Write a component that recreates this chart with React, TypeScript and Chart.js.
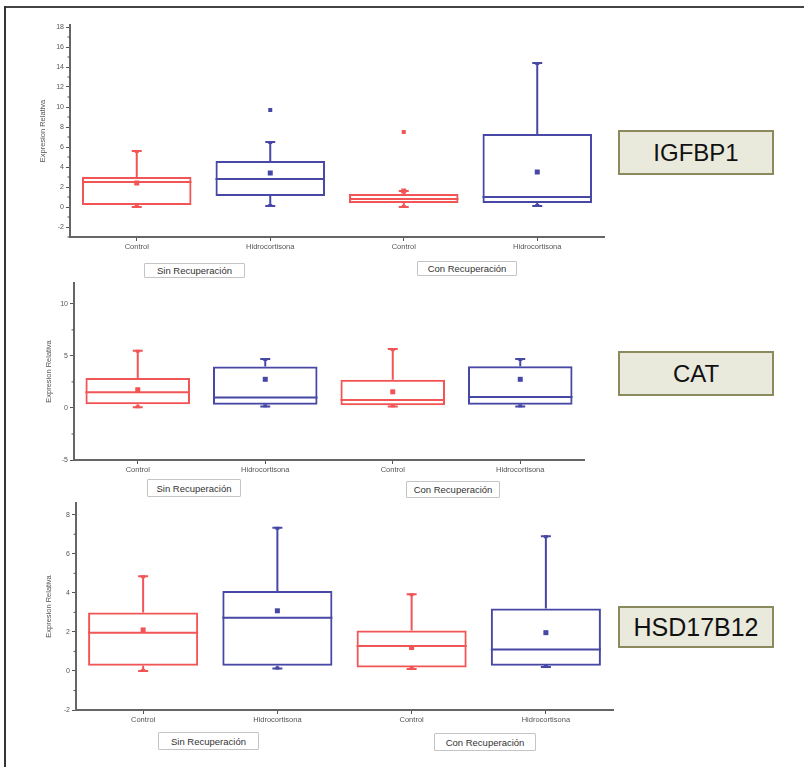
import React, { useEffect, useRef } from "react";
import { Chart, registerables } from "chart.js";
Chart.register(...registerables);

// ---------- data ----------
const categories = ["Control", "Hidrocortisona", "Control", "Hidrocortisona"];
const groupLabels = ["Sin Recuperación", "Con Recuperación"];
const yTitle = "Expresion Relativa";

// IGFBP1
const igfMin = [0, 0.1, 0, 0.1];
const igfQ1 = [0.2, 1.1, 0.4, 0.4];
const igfMedian = [2.5, 2.8, 0.8, 1.0];
const igfQ3 = [3.0, 4.6, 1.3, 7.3];
const igfMax = [5.6, 6.5, 1.6, 14.4];
const igfMean = [2.4, 3.4, 1.6, 3.5];
const igfOutliers = [[], [9.7], [7.5], []];
const igfTicks = [-2, 0, 2, 4, 6, 8, 10, 12, 14, 16, 18];
const igfMinor = [-3, -1, 1, 3, 5, 7, 9, 11, 13, 15, 17];

// CAT
const catMin = [0.07, 0.15, 0.15, 0.15];
const catQ1 = [0.35, 0.3, 0.25, 0.3];
const catMedian = [1.5, 1.0, 0.77, 1.05];
const catQ3 = [2.87, 3.98, 2.7, 4.0];
const catMax = [5.5, 4.7, 5.65, 4.7];
const catMean = [1.75, 2.75, 1.55, 2.75];
const catOutliers = [[], [], [], []];
const catTicks = [-5, 0, 5, 10];
const catMinor = [-2.5, 2.5, 7.5];

// HSD17B12
const hsdMin = [0, 0.12, 0.1, 0.2];
const hsdQ1 = [0.27, 0.27, 0.17, 0.27];
const hsdMedian = [1.95, 2.73, 1.28, 1.1];
const hsdQ3 = [2.99, 4.1, 2.07, 3.2];
const hsdMax = [4.85, 7.33, 3.93, 6.9];
const hsdMean = [2.1, 3.08, 1.2, 1.96];
const hsdOutliers = [[], [], [], []];
const hsdTicks = [-2, 0, 2, 4, 6, 8];
const hsdMinor = [-1, 1, 3, 5, 7];

const RED = "#f25555";
const BLUE = "#4747a6";
const boxColors = [RED, BLUE, RED, BLUE];

type PanelCfg = {
  gene: string;
  min: number[]; q1: number[]; median: number[]; q3: number[]; max: number[]; mean: number[];
  outliers: number[][];
  ticks: number[]; minor: number[];
  yMin: number; yMax: number;
  top: number; height: number;
  area: { left: number; right: number; top: number; bottom: number };
  yW: number;
  geneBox: { x: number; y: number; w: number; h: number; fs: number };
  groups: { x: number; y: number; w: number; h: number }[];
};

const W = 804;
const XH = 14;

const panels: PanelCfg[] = [
  {
    gene: "IGFBP1", min: igfMin, q1: igfQ1, median: igfMedian, q3: igfQ3, max: igfMax, mean: igfMean,
    outliers: igfOutliers, ticks: igfTicks, minor: igfMinor, yMin: -3, yMax: 18.2,
    top: 0, height: 258, area: { left: 70, right: 604, top: 25, bottom: 237 }, yW: 32,
    geneBox: { x: 618, y: 130, w: 156, h: 45, fs: 24 },
    groups: [{ x: 144, y: 263, w: 101, h: 15 }, { x: 417, y: 261, w: 100, h: 15 }],
  },
  {
    gene: "CAT", min: catMin, q1: catQ1, median: catMedian, q3: catQ3, max: catMax, mean: catMean,
    outliers: catOutliers, ticks: catTicks, minor: catMinor, yMin: -5, yMax: 12,
    top: 270, height: 232, area: { left: 74, right: 584, top: 13, bottom: 190 }, yW: 30,
    geneBox: { x: 618, y: 351, w: 156, h: 45, fs: 24 },
    groups: [{ x: 147, y: 479, w: 94, h: 18 }, { x: 406, y: 481, w: 94, h: 17 }],
  },
  {
    gene: "HSD17B12", min: hsdMin, q1: hsdQ1, median: hsdMedian, q3: hsdQ3, max: hsdMax, mean: hsdMean,
    outliers: hsdOutliers, ticks: hsdTicks, minor: hsdMinor, yMin: -2, yMax: 8.6,
    top: 495, height: 272, area: { left: 76, right: 613, top: 8, bottom: 215 }, yW: 32,
    geneBox: { x: 618, y: 606, w: 156, h: 42, fs: 25 },
    groups: [{ x: 158, y: 732, w: 101, h: 18 }, { x: 434, y: 733, w: 102, h: 18 }],
  },
];

const FONT = "'Liberation Sans', Arial, sans-serif";

function makeBoxPlugin(cfg: PanelCfg) {
  return {
    id: "boxWhiskers",
    afterDatasetsDraw(chart: any) {
      const ctx = chart.ctx;
      const xs = chart.scales.x;
      const ys = chart.scales.y;
      const meta = chart.getDatasetMeta(0);
      ctx.save();
      for (let i = 0; i < categories.length; i++) {
        const col = boxColors[i];
        const x = xs.getPixelForValue(i);
        const bw = meta.data[i].width;
        const capW = 10;
        ctx.strokeStyle = col;
        ctx.fillStyle = col;
        ctx.lineWidth = 2;
        const yQ1 = ys.getPixelForValue(cfg.q1[i]);
        const yQ3 = ys.getPixelForValue(cfg.q3[i]);
        const yMin = ys.getPixelForValue(cfg.min[i]);
        const yMax = ys.getPixelForValue(cfg.max[i]);
        const yMed = ys.getPixelForValue(cfg.median[i]);
        const yMean = ys.getPixelForValue(cfg.mean[i]);
        ctx.beginPath();
        ctx.moveTo(x, yQ3); ctx.lineTo(x, yMax);
        ctx.moveTo(x, yQ1); ctx.lineTo(x, yMin);
        ctx.moveTo(x - capW / 2, yMax); ctx.lineTo(x + capW / 2, yMax);
        ctx.moveTo(x - capW / 2, yMin); ctx.lineTo(x + capW / 2, yMin);
        ctx.moveTo(x - bw / 2, yMed); ctx.lineTo(x + bw / 2, yMed);
        ctx.stroke();
        ctx.fillRect(x - 2, yMin - 2, 4, 3);
        ctx.fillRect(x - 2, yMax - 1, 4, 3);
        ctx.fillRect(x - 2.5, yMean - 2.5, 5, 5);
        for (const o of cfg.outliers[i]) {
          const yo = ys.getPixelForValue(o);
          ctx.fillRect(x - 2, yo - 2, 4, 4);
        }
      }
      ctx.strokeStyle = "#555";
      ctx.lineWidth = 1;
      ctx.beginPath();
      for (const m of cfg.minor) {
        const y = ys.getPixelForValue(m);
        ctx.moveTo(chart.chartArea.left - 2.5, y);
        ctx.lineTo(chart.chartArea.left, y);
      }
      ctx.stroke();
      ctx.restore();
    },
  };
}

function BoxPanel({ cfg }: { cfg: PanelCfg }) {
  const ref = useRef<HTMLCanvasElement>(null);
  useEffect(() => {
    const canvas = ref.current!;
    const a = cfg.area;
    const chart = new Chart(canvas, {
      type: "bar",
      data: {
        labels: categories,
        datasets: [
          {
            data: cfg.q1.map((v, i) => [v, cfg.q3[i]]) as any,
            backgroundColor: "rgba(0,0,0,0)",
            borderColor: boxColors,
            borderWidth: 2,
            borderSkipped: false,
            categoryPercentage: 1,
            barPercentage: 0.82,
          } as any,
        ],
      },
      options: {
        responsive: false,
        animation: false,
        devicePixelRatio: 1,
        layout: {
          padding: {
            left: a.left - cfg.yW,
            right: W - a.right,
            top: a.top,
            bottom: cfg.height - a.bottom - XH,
          },
        },
        plugins: { legend: { display: false }, tooltip: { enabled: false } },
        scales: {
          x: {
            offset: true,
            grid: { display: true, drawOnChartArea: false, offset: false, tickLength: 4, tickColor: "#555" },
            border: { color: "#666", width: 2 },
            ticks: { font: { size: 7.5, family: FONT }, color: "#555", padding: 1, maxRotation: 0, autoSkip: false },
            afterFit: (s: any) => { s.height = XH; },
          },
          y: {
            min: cfg.yMin,
            max: cfg.yMax,
            grid: { display: true, drawOnChartArea: false, tickLength: 4, tickColor: "#555" },
            border: { color: "#666", width: 2 },
            ticks: { font: { size: 7, family: FONT }, color: "#555", padding: 2 },
            afterBuildTicks: (s: any) => { s.ticks = cfg.ticks.map((v) => ({ value: v })); },
            afterFit: (s: any) => { s.width = cfg.yW; },
            title: { display: true, text: yTitle, font: { size: 7.5, family: FONT }, color: "#555", padding: 0 },
          },
        },
      } as any,
      plugins: [makeBoxPlugin(cfg)],
    });
    return () => chart.destroy();
  }, [cfg]);
  return (
    <canvas
      ref={ref}
      width={W}
      height={cfg.height}
      style={{ position: "absolute", left: 0, top: cfg.top, width: W, height: cfg.height }}
    />
  );
}

export default function App() {
  return (
    <div style={{ position: "fixed", left: 0, top: 0, width: W, height: 767, background: "#fff", overflow: "hidden", fontFamily: FONT }}>
      <div style={{ position: "absolute", left: 4, top: 6, width: 800, height: 2, background: "#444" }} />
      <div style={{ position: "absolute", left: 4, top: 6, width: 2, height: 761, background: "#333" }} />
      {panels.map((p) => (
        <React.Fragment key={p.gene}>
          <BoxPanel cfg={p} />
          {p.groups.map((g, i) => (
            <div
              key={i}
              style={{
                position: "absolute", left: g.x, top: g.y, width: g.w, height: g.h, boxSizing: "border-box",
                border: "1px solid #c4c4c4", borderRadius: 1, background: "#fff",
                fontSize: 9.5, color: "#333", display: "flex", alignItems: "center", justifyContent: "center",
                whiteSpace: "nowrap",
              }}
            >
              {groupLabels[i]}
            </div>
          ))}
          <div
            style={{
              position: "absolute", left: p.geneBox.x, top: p.geneBox.y, width: p.geneBox.w, height: p.geneBox.h,
              boxSizing: "border-box", border: "2px solid #8a8a5e", background: "#e9e9dc",
              fontSize: p.geneBox.fs, color: "#111", display: "flex", alignItems: "center", justifyContent: "center",
              fontFamily: "'Liberation Sans', Arial, sans-serif",
            }}
          >
            {p.gene}
          </div>
        </React.Fragment>
      ))}
    </div>
  );
}
